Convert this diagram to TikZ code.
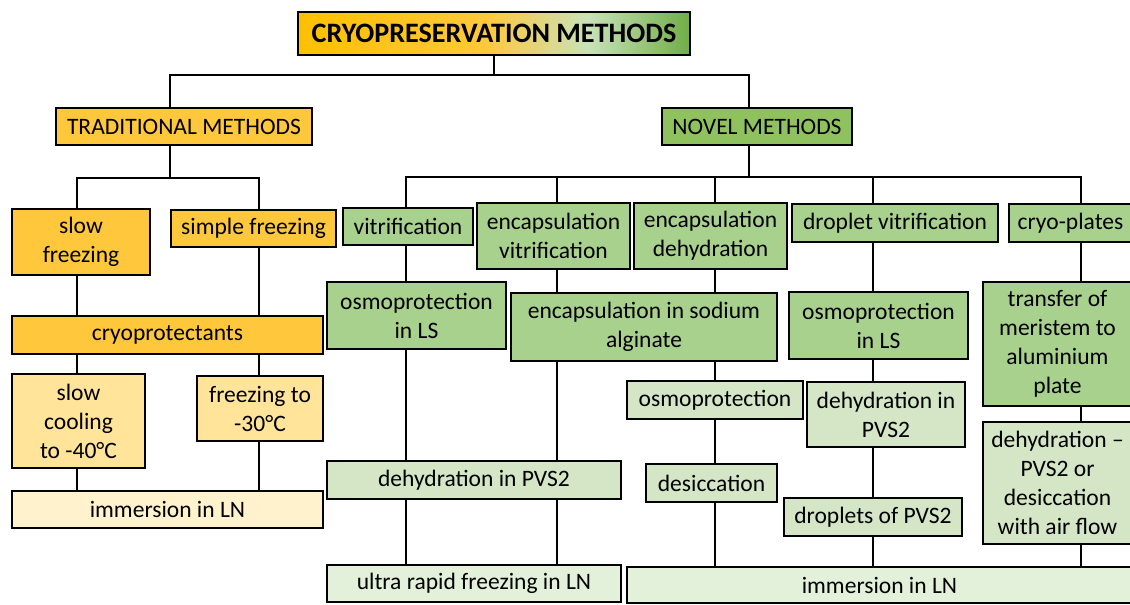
\documentclass[tikz,border=0pt]{standalone}
\usepackage{fontspec}
\setmainfont{Carlito}
\usepackage{tikz}
\usetikzlibrary{positioning,calc}
\usepackage{xcolor}
\definecolor{gold}{HTML}{FFC000}
\definecolor{trad1}{HTML}{FFC83C}
\definecolor{trad2}{HTML}{FFE499}
\definecolor{trad3}{HTML}{FFF2CC}
\definecolor{nov0}{HTML}{8FC15F}
\definecolor{nov1}{HTML}{A9D18E}
\definecolor{nov2}{HTML}{D4E6C6}
\definecolor{nov3}{HTML}{E3F0DA}
\definecolor{paleg}{HTML}{C8E2B8}
\definecolor{greenD}{HTML}{70AD47}
\pgfdeclarehorizontalshading{titleshade}{100bp}{color(0bp)=(gold); color(25bp)=(gold); color(49bp)=(trad1); color(62bp)=(paleg); color(75bp)=(greenD); color(100bp)=(greenD)}
\tikzset{
  box/.style={draw=black, line width=1.2pt, align=center, inner sep=1pt,
    font=\fontsize{13.4}{16.5}\selectfont},
  link/.style={line width=1.4pt}
}

\begin{document}
\begin{tikzpicture}[x=0.02cm, y=-0.02cm]
  \useasboundingbox (0,0) rectangle (1130,605);

  \node[box, shading=titleshade, minimum width=392*0.02cm, minimum height=43*0.02cm,
    font=\fontsize{16}{19}\selectfont\bfseries] (title) at (494,33.5) {CRYOPRESERVATION METHODS};

  % boxes: name/x/y/width/height/fill/text
  \foreach \nm/\px/\py/\bw/\bh/\col/\txt in {
    trad/184/126.5/256/37/trad1/{TRADITIONAL METHODS},
    novel/757/126.5/190/37/nov0/{NOVEL METHODS},
    slowf/81/242/138/66/trad1/{slow\\freezing},
    simplef/253.5/228.5/165/37/trad1/{simple freezing},
    cryop/167.5/335/311/38/trad1/{cryoprotectants},
    slowc/78.5/421/133/94/trad2/{slow\\cooling\\to -40°C},
    frz/260/408.5/126/65/trad2/{freezing to\\-30°C},
    immL/167.5/509.5/311/37/trad3/{immersion in LN},
    vitr/408/226.5/130/37/nov1/{vitrification},
    encv/553.5/236/153/66/nov1/{encapsulation\\vitrification},
    encd/710.5/236/153/66/nov1/{encapsulation\\dehydration},
    dropv/895/223/206/38/nov1/{droplet vitrification},
    cryo/1070.5/223/123/38/nov1/{cryo-plates},
    osmoA/416.5/315.5/179/67/nov1/{osmoprotection\\in LS},
    alg/644/327/266/68/nov1/{encapsulation in sodium\\alginate},
    osmoB/878.5/325.5/179/67/nov1/{osmoprotection\\in LS},
    transf/1057.5/344/149/124/nov1/{transfer of\\meristem to\\aluminium\\plate},
    osmo/715/400/176/38/nov2/{osmoprotection},
    dehyR/886/414.5/158/65/nov2/{dehydration in\\PVS2},
    dehyL/474/480/294/38/nov2/{dehydration in PVS2},
    desic/711.5/483/131/38/nov2/{desiccation},
    dropP/873/517/178/38/nov2/{droplets of PVS2},
    dehyC/1057.5/483/149/122/nov2/{dehydration --\\PVS2 or\\desiccation\\with air flow},
    ultra/474/583.5/294/37/nov3/{ultra rapid freezing in LN},
    immR/879.5/585/505/36/nov3/{immersion in LN}} {
    \node[box, fill=\col, minimum width=\bw*0.02cm, minimum height=\bh*0.02cm] (\nm) at (\px,\py) {\txt};
  }

  % bus lines and columns
  \coordinate (bus0) at (0,75);
  \coordinate (bus1) at (0,178);
  \coordinate (bus2) at (0,177);
  \coordinate (cT) at (170,0);
  \coordinate (cN) at (749,0);
  \coordinate (cA) at (77,0);
  \coordinate (cB) at (259,0);
  \coordinate (c1) at (406,0);
  \coordinate (c2) at (557,0);
  \coordinate (c3) at (715,0);
  \coordinate (c4) at (873,0);
  \coordinate (c5) at (1081,0);

  % top level
  \draw[link] (title.south) -- (title.south |- bus0);
  \draw[link] (trad.north -| cT) -- (cT |- bus0) -- (cN |- bus0) -- (novel.north -| cN);

  % traditional branch
  \draw[link] (trad.south -| cT) -- (cT |- bus1);
  \draw[link] (slowf.north -| cA) -- (cA |- bus1) -- (cB |- bus1) -- (simplef.north -| cB);
  \foreach \a/\b/\cc in {slowf/cryop/cA, simplef/cryop/cB, cryop/slowc/cA, cryop/frz/cB, slowc/immL/cA, frz/immL/cB}
    \draw[link] (\a.south -| \cc) -- (\b.north -| \cc);

  % novel branch
  \draw[link] (novel.south -| cN) -- (cN |- bus2);
  \draw[link] (vitr.north -| c1) -- (c1 |- bus2) -- (c5 |- bus2) -- (cryo.north -| c5);
  \foreach \b/\cc in {encv/c2, encd/c3, dropv/c4}
    \draw[link] (\b.north -| \cc) -- (\cc |- bus2);
  \foreach \a/\b/\cc in {vitr/osmoA/c1, encv/alg/c2, encd/alg/c3, dropv/osmoB/c4, cryo/transf/c5,
    osmoA/dehyL/c1, alg/dehyL/c2, alg/osmo/c3, osmoB/dehyR/c4, transf/dehyC/c5,
    dehyL/ultra/c1, dehyL/ultra/c2, osmo/desic/c3, desic/immR/c3, dehyR/dropP/c4,
    dropP/immR/c4, dehyC/immR/c5}
    \draw[link] (\a.south -| \cc) -- (\b.north -| \cc);
\end{tikzpicture}
\end{document}
